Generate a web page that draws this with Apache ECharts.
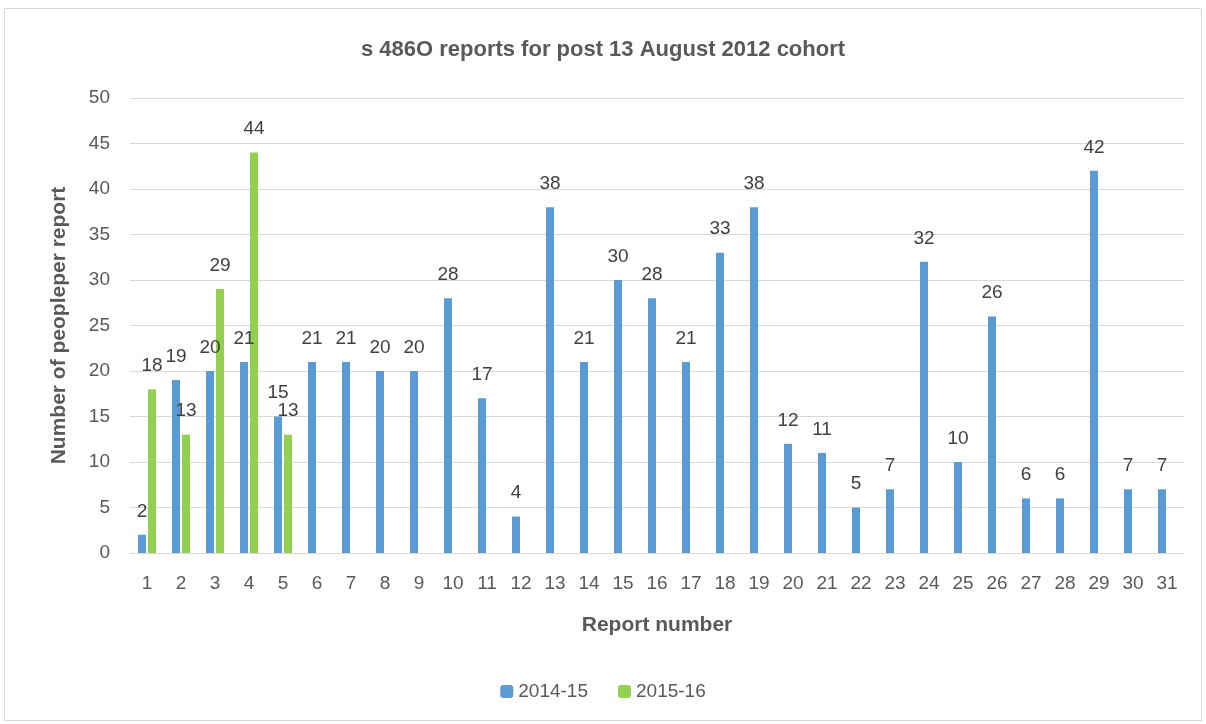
<!DOCTYPE html>
<html>
<head>
<meta charset="utf-8">
<script src="https://cdn.jsdelivr.net/npm/echarts@6/dist/echarts.min.js"></script>
<style>
  html, body { margin: 0; padding: 0; background: #fff; }
  #chart { width: 1206px; height: 724px; }
</style>
</head>
<body>
<div id="chart"></div>
<script>
  // report numbers
  var reports = ['1','2','3','4','5','6','7','8','9','10','11','12','13','14','15','16',
    '17','18','19','20','21','22','23','24','25','26','27','28','29','30','31']
  var year1415 = [2,19,20,21,15,21,21,20,20,28,17,4,38,21,30,28,21,33,38,12,11,5,7,32,10,26,6,6,42,7,7]
  var year1516 = [18,13,29,44,13]

  var font = 'Liberation Sans, sans-serif'

  var chart = echarts.init(document.getElementById('chart'))
  chart.setOption({
    animation: false,
    textStyle: { fontFamily: font },
    graphic: [{
      type: 'rect',
      shape: { x: 4.5, y: 8.5, width: 1197, height: 712 },
      style: { fill: 'none', stroke: '#d9d9d9', lineWidth: 1 }
    }],
    title: {
      text: 's 486O reports for post 13 August 2012 cohort',
      left: 'center',
      top: 34,
      textStyle: { color: '#595959', fontSize: 22, fontWeight: 'bold', fontFamily: font }
    },
    legend: {
      bottom: 18,
      left: 'center',
      itemWidth: 13,
      itemHeight: 13,
      itemGap: 30,
      textStyle: { color: '#595959', fontSize: 19, fontFamily: font },
      data: ['2014-15', '2015-16']
    },
    grid: { left: 130, right: 22, top: 98, bottom: 171 },
    xAxis: {
      type: 'category',
      data: reports,
      name: 'Report number',
      nameLocation: 'middle',
      nameGap: 62,
      nameTextStyle: { color: '#595959', fontSize: 21, fontWeight: 'bold', fontFamily: font },
      axisLine: { lineStyle: { color: '#d9d9d9' } },
      axisTick: { show: false },
      axisLabel: { color: '#595959', fontSize: 19, margin: 21, fontFamily: font },
      z: 1
    },
    yAxis: {
      type: 'value',
      min: 0,
      max: 50,
      interval: 5,
      name: 'Number of peopleper report',
      nameLocation: 'middle',
      nameGap: 60,
      nameTextStyle: { color: '#595959', fontSize: 21, fontWeight: 'bold', fontFamily: font },
      axisLine: { show: false },
      axisTick: { show: false },
      axisLabel: { color: '#595959', fontSize: 19, margin: 20, fontFamily: font },
      splitLine: { lineStyle: { color: '#d9d9d9' } }
    },
    series: [
      {
        name: '2014-15',
        type: 'bar',
        data: year1415,
        barWidth: 8,
        barGap: '25%',
        itemStyle: { color: '#5b9bd5' },
        label: { show: true, position: 'top', distance: 14, color: '#404040', fontSize: 19, fontFamily: font }
      },
      {
        name: '2015-16',
        type: 'bar',
        data: year1516,
        barWidth: 8,
        itemStyle: { color: '#92d050' },
        label: { show: true, position: 'top', distance: 14, color: '#404040', fontSize: 19, fontFamily: font }
      }
    ]
  })
</script>
</body>
</html>
